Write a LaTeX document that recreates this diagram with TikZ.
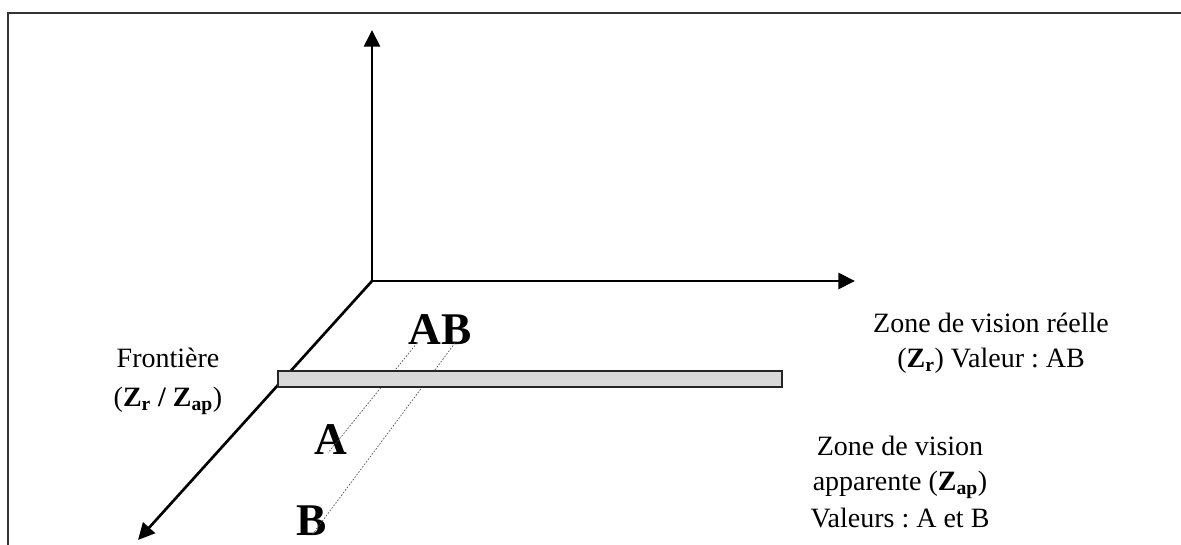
\documentclass[tikz,border=0pt]{standalone}
\usepackage{fontspec}
\setmainfont{Liberation Serif}
\usetikzlibrary{arrows.meta}
\frenchspacing
\tikzset{
  axis/.style={line width=2pt, -{Triangle[length=12.5pt,width=12pt]}},
  frameline/.style={line width=1.3pt, draw=black!80},
  guide/.style={line width=0.5pt, draw=black!70, dash pattern=on 1.2pt off 1.2pt},
  bar/.style={draw=black!85, line width=0.9pt, fill=black!15, inner sep=0pt,
    minimum width=378pt, minimum height=12pt},
  txt/.style={anchor=base, inner sep=0pt, font=\fontsize{21}{25}\selectfont},
  big/.style={anchor=base, inner sep=0pt, font=\fontsize{34}{40}\selectfont\bfseries}
}
\begin{document}
\begin{tikzpicture}[x=0.75pt, y=-0.75pt]
\useasboundingbox (0,0) rectangle (1181,545);
% frame
\coordinate (fbl) at (8,545);
\coordinate (ftl) at (8,13);
\coordinate (ftr) at (1181,13);
\draw[frameline] (fbl) -- (ftl) -- (ftr);
% axes
\coordinate (O) at (372,281);
\coordinate (up) at (372,30);
\coordinate (right) at (855,281);
\coordinate (front) at (138,540);
\draw[axis] (O) -- (up);
\draw[axis] (O) -- (right);
\draw[axis] (O) -- (front);
% labels A, AB, B
\node[big] (AB) at (440,344) {AB};
\node[big] (A) at (331,454) {A};
\node[big] (B) at (312,535) {B};
% guide lines
\coordinate (g1a) at (417,343);
\coordinate (g1b) at (328,453);
\coordinate (g2a) at (455,343);
\coordinate (g2b) at (312,535);
\draw[guide] (g1a) -- (g1b);
\draw[guide] (g2a) -- (g2b);
% frontier bar
\node[bar] (barnode) at (530,379) {};
% texts
\node[txt] (fr1) at (168,367) {Frontière};
\node[txt] (fr2) at (168,406) {(\textbf{Z\textsubscript{r} / Z\textsubscript{ap}})};
\node[txt] (zr1) at (991,332) {Zone de vision réelle};
\node[txt] (zr2) at (991,367) {(\textbf{Z\textsubscript{r}}) Valeur : AB};
\node[txt] (za1) at (900,455) {Zone de vision};
\node[txt] (za2) at (900,490) {apparente (\textbf{Z\textsubscript{ap}})};
\node[txt] (za3) at (900,527) {Valeurs : A et B};
\end{tikzpicture}
\end{document}
